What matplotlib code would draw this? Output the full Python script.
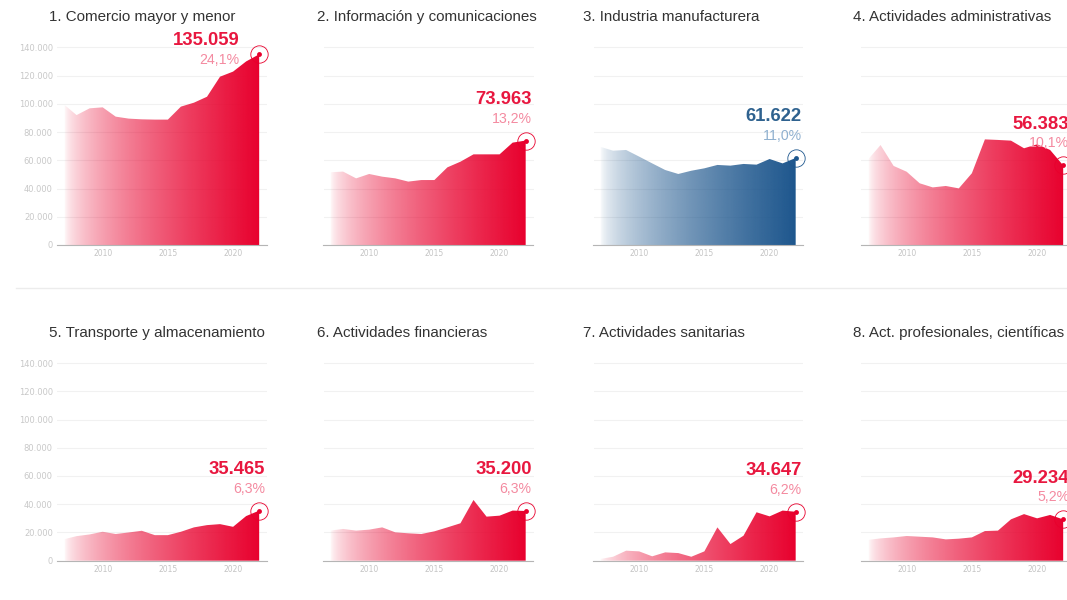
import numpy as np
import matplotlib
matplotlib.use("Agg")
import matplotlib.pyplot as plt
import matplotlib.colors as mcolors
from matplotlib.lines import Line2D

# Data: employees by sector, 2007-2022
years = list(range(2007, 2023))

titles = [
    "1. Comercio mayor y menor",
    "2. Información y comunicaciones",
    "3. Industria manufacturera",
    "4. Actividades administrativas",
    "5. Transporte y almacenamiento",
    "6. Actividades financieras",
    "7. Actividades sanitarias",
    "8. Act. profesionales, científicas",
]

comercio = [99800, 92000, 96800, 97500, 90900, 89500, 89000, 88800,
            88800, 98000, 100800, 105000, 119200, 122800, 130000, 135059]
informacion = [51500, 52000, 47200, 50300, 48400, 47200, 44900, 46000,
               46000, 55000, 59000, 64200, 64200, 64200, 72500, 73963]
industria = [69600, 66800, 67300, 62600, 57800, 53100, 50300, 52600,
             54300, 56700, 56200, 57400, 56900, 60900, 57800, 61622]
administrativas = [60200, 70800, 56000, 51900, 43700, 40800, 41800, 40100,
                   50800, 74800, 74400, 73900, 68500, 71300, 67300, 56383]
transporte = [15100, 17400, 18600, 20500, 18900, 20000, 21200, 18100,
              18100, 20500, 23600, 25200, 25900, 24000, 31600, 35465]
financieras = [21300, 22500, 21300, 22000, 23600, 20100, 19400, 18900,
               20800, 23600, 26500, 43000, 31200, 31900, 35500, 35200]
sanitarias = [1200, 2800, 7100, 6600, 3100, 5900, 5400, 2800,
              6600, 23600, 11800, 17700, 34300, 31400, 35500, 34647]
profesionales = [14700, 15800, 16500, 17500, 17000, 16500, 15100, 15600,
                 16500, 21000, 21300, 29300, 33000, 30000, 32400, 29234]

series = [comercio, informacion, industria, administrativas,
          transporte, financieras, sanitarias, profesionales]
shares = ["24,1%", "13,2%", "11,0%", "10,1%", "6,3%", "6,3%", "6,2%", "5,2%"]
is_blue = [False, False, True, False, False, False, False, False]

red = "#e8002d"
red_text = "#e8173f"
red_pct = "#f48aa0"
blue = "#1d568d"
blue_text = "#2f628f"
blue_pct = "#8fb0cf"

W, H = 1067, 600
fig = plt.figure(figsize=(W / 100, H / 100), dpi=100)
fig.patch.set_facecolor("white")

# pixel layout
col_left = [57, 323.5, 593.5, 861]
title_x = [49, 317, 583, 853]
row_zero = [245, 560.7]      # pixel y of value 0
row_title = [17, 332.7]
ax_w = 210
px_per_k = 1.412
ymax = 145000
ax_h = ymax / 1000 * px_per_k


def gradient_fill(ax, x, y, color):
    poly = ax.fill_between(x, y, 0, color="none", lw=0)
    path = poly.get_paths()[0]
    grad = np.zeros((1, 300, 4))
    grad[..., :3] = mcolors.to_rgb(color)
    grad[..., 3] = np.linspace(0.0, 1.0, 300) ** 0.6
    im = ax.imshow(grad, aspect="auto", extent=[x[0], x[-1], 0, max(y)],
                   origin="lower", zorder=2, interpolation="bilinear")
    im.set_clip_path(path, transform=ax.transData)


for i, vals in enumerate(series):
    r, c = divmod(i, 4)
    left = col_left[c] / W
    bottom = (H - row_zero[r]) / H
    ax = fig.add_axes([left, bottom, ax_w / W, ax_h / H])

    color = blue if is_blue[i] else red
    tcol = blue_text if is_blue[i] else red_text
    pcol = blue_pct if is_blue[i] else red_pct

    gradient_fill(ax, years, vals, color)

    ax.set_xlim(2006.5, 2022.6)
    ax.set_ylim(0, ymax)
    ax.set_yticks(range(0, 140001, 20000))
    ax.set_xticks([2010, 2015, 2020])
    ax.grid(axis="y", color="#f1f1f1", lw=0.8, zorder=0)
    ax.set_axisbelow(True)
    for s in ["top", "right", "left"]:
        ax.spines[s].set_visible(False)
    ax.spines["bottom"].set_color("#b5b5b5")
    ax.spines["bottom"].set_linewidth(0.8)
    ax.tick_params(axis="both", length=0)
    ax.tick_params(axis="x", pad=3, labelsize=5.5, labelcolor="#c4c4c4")
    if c == 0:
        ax.set_yticklabels([f"{v:,}".replace(",", ".") for v in range(0, 140001, 20000)],
                           fontsize=6, color="#c8c8c8", family="DejaVu Sans")
        ax.tick_params(axis="y", pad=3)
    else:
        ax.set_yticklabels([])
    ax.patch.set_alpha(0)

    # last point marker
    xl, yl = years[-1], vals[-1]
    ax.plot([xl], [yl], "o", ms=12.5, mfc="none", mec=color, mew=0.6,
            clip_on=False, zorder=5)
    ax.plot([xl], [yl], "o", ms=3.5, color=color, mec="none", clip_on=False, zorder=5)

    label = f"{yl:,}".replace(",", ".")
    if yl > 120000:
        dx, dy_num, dy_pct = -20, 14, -6
    else:
        dx, dy_num, dy_pct = 6, 41, 22
    ax.annotate(label, (xl, yl), xytext=(dx, dy_num), textcoords="offset pixels",
                ha="right", va="center", fontsize=13.3, fontweight="bold",
                color=tcol, family="Liberation Sans", annotation_clip=False)
    ax.annotate(shares[i], (xl, yl), xytext=(dx, dy_pct), textcoords="offset pixels",
                ha="right", va="center", fontsize=10.2, color=pcol,
                family="Liberation Sans", annotation_clip=False)

    fig.text(title_x[c] / W, (H - row_title[r]) / H, titles[i], ha="left",
             va="center", fontsize=10.9, color="#333333", family="Liberation Sans")

# separator between rows
fig.add_artist(Line2D([16 / W, 1], [(H - 288) / H] * 2, color="#ececec", lw=1))

fig.savefig("out.png", dpi=100)
